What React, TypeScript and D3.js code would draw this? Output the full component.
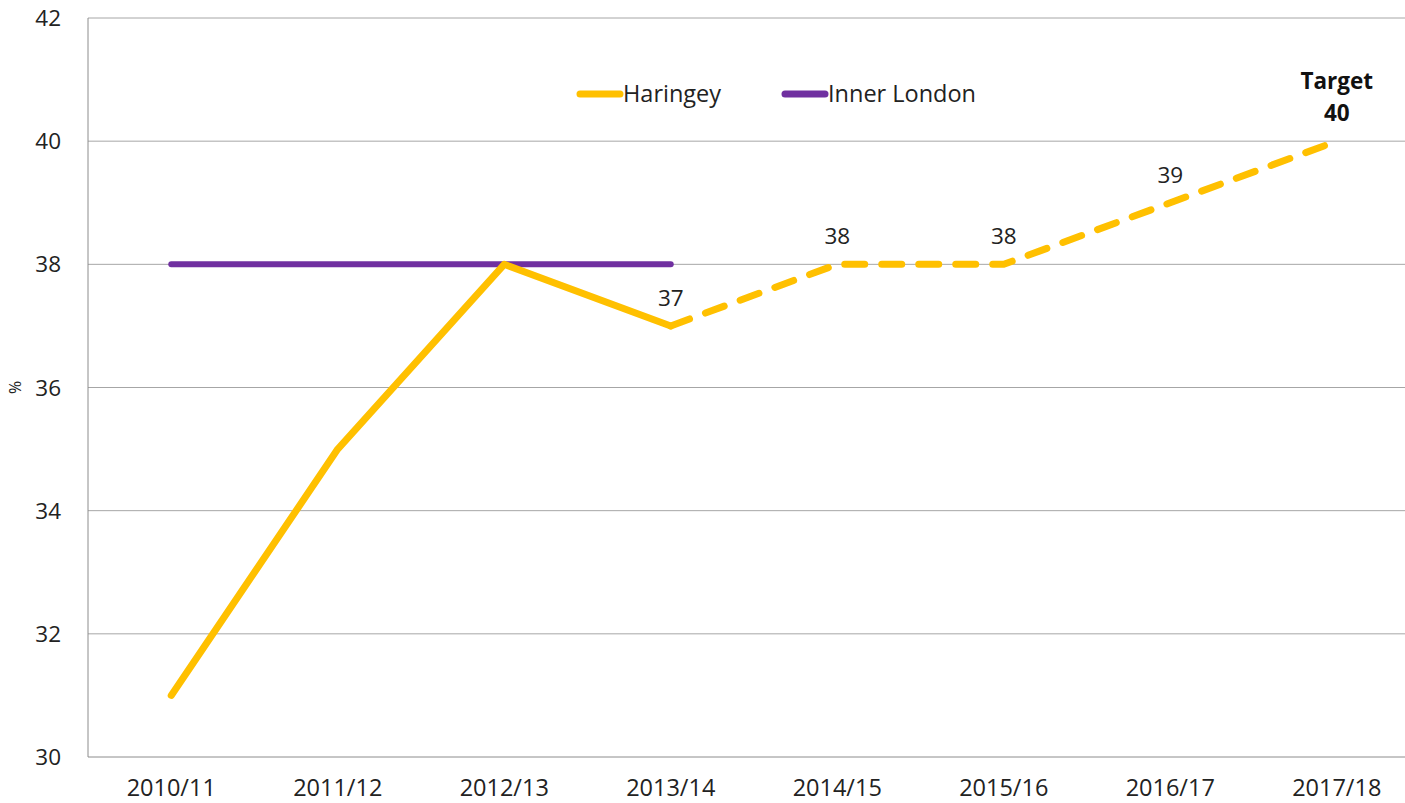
import React from "react";
import * as d3 from "d3";

const categories = ["2010/11", "2011/12", "2012/13", "2013/14", "2014/15", "2015/16", "2016/17", "2017/18"];
const haringeyActual = [31, 35, 38, 37, null, null, null, null];
const haringeyProjected = [null, null, null, 37, 38, 38, 39, 40];
const innerLondon = [38, 38, 38, 38, null, null, null, null];
const yTicks = [30, 32, 34, 36, 38, 40, 42];
const dataLabels = [
  { idx: 3, text: "37" },
  { idx: 4, text: "38" },
  { idx: 5, text: "38" },
  { idx: 6, text: "39" },
];

const W = 1405;
const H = 803;
const FONT = "'Open Sans', sans-serif";

export default function App() {
  const x = d3.scaleBand<string>().domain(categories).range([88, 1420]);
  const cx = (i: number) => (x(categories[i]) as number) + x.bandwidth() / 2;
  const y = d3.scaleLinear().domain([30, 42]).range([757, 18]);

  const line = d3
    .line<number | null>()
    .defined((d) => d !== null)
    .x((_, i) => cx(i))
    .y((d) => y(d as number));

  return (
    <svg width={W} height={H} style={{ position: "absolute", left: 0, top: 0, background: "#fff" }}>
      {yTicks.map((t) => (
        <g key={t}>
          {t !== 30 && t !== 42 && (
            <line x1={88} x2={W} y1={y(t)} y2={y(t)} stroke="#a6a6a6" strokeWidth={1} />
          )}
          <text x={61} y={y(t)} dy="0.36em" textAnchor="end" fontFamily={FONT} fontSize={22.5} fill="#222">
            {t}
          </text>
        </g>
      ))}
      <line x1={88} x2={W} y1={y(42)} y2={y(42)} stroke="#a6a6a6" strokeWidth={1} />
      <line x1={88} x2={W} y1={y(30)} y2={y(30)} stroke="#8c8c8c" strokeWidth={1} />
      <line x1={88} x2={88} y1={y(42)} y2={y(30)} stroke="#8c8c8c" strokeWidth={1} />
      <text
        transform={`translate(21,${y(36)}) rotate(-90)`}
        textAnchor="middle"
        fontFamily={FONT}
        fontSize={16}
        fill="#222"
      >
        %
      </text>
      {categories.map((c, i) => (
        <text key={c} x={cx(i)} y={796} textAnchor="middle" fontFamily={FONT} fontSize={23.5} fill="#222">
          {c}
        </text>
      ))}
      <path d={line(innerLondon) || ""} fill="none" stroke="#7030A0" strokeWidth={6} strokeLinecap="round" />
      <path
        d={line(haringeyActual) || ""}
        fill="none"
        stroke="#FFC000"
        strokeWidth={7}
        strokeLinecap="round"
        strokeLinejoin="round"
      />
      <path
        d={line(haringeyProjected) || ""}
        fill="none"
        stroke="#FFC000"
        strokeWidth={7}
        strokeLinecap="round"
        strokeDasharray="20,17"
      />
      {dataLabels.map((l) => (
        <text
          key={l.idx}
          x={cx(l.idx)}
          y={y(haringeyProjected[l.idx] as number) - 20}
          textAnchor="middle"
          fontFamily={FONT}
          fontSize={22.5}
          fill="#222"
        >
          {l.text}
        </text>
      ))}
      <text x={cx(7)} y={89} textAnchor="middle" fontFamily={FONT} fontSize={22.5} fontWeight="bold" fill="#111">
        Target
      </text>
      <text x={cx(7)} y={121} textAnchor="middle" fontFamily={FONT} fontSize={22.5} fontWeight="bold" fill="#111">
        {haringeyProjected[7]}
      </text>
      <g>
        <line x1={580} x2={620} y1={94} y2={94} stroke="#FFC000" strokeWidth={7} strokeLinecap="round" />
        <text x={623} y={94} dy="0.36em" fontFamily={FONT} fontSize={23.5} fill="#222">
          Haringey
        </text>
        <line x1={785} x2={825} y1={94} y2={94} stroke="#7030A0" strokeWidth={7} strokeLinecap="round" />
        <text x={828} y={94} dy="0.36em" fontFamily={FONT} fontSize={23.5} fill="#222">
          Inner London
        </text>
      </g>
    </svg>
  );
}
